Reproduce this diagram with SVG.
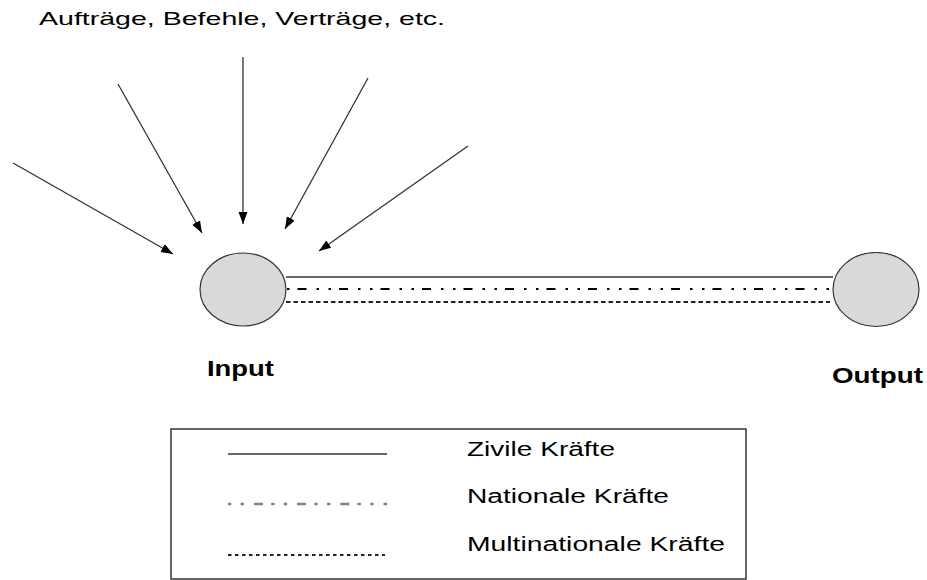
<svg xmlns="http://www.w3.org/2000/svg" width="927" height="580" viewBox="0 0 927 580">
<defs>
<marker id="ah" markerUnits="userSpaceOnUse" markerWidth="13" markerHeight="10" refX="12" refY="4.5" orient="auto">
<path d="M0,0 L12,4.5 L0,9 z" fill="#000"/>
</marker>
<style>
.t{font-family:"Liberation Sans",Arial,sans-serif;fill:#000}
.b{font-weight:bold}
.node{fill:#d9d9d9;stroke:#333;stroke-width:1.2}
.arr{stroke:#333;stroke-width:1.3;fill:none;marker-end:url(#ah)}
.solid{stroke:#666;stroke-width:2;fill:none}
.dd{stroke:#000;stroke-width:2;fill:none;stroke-dasharray:2.5 8 9 10 2.5 9.5}
.dash{stroke:#222;stroke-width:2;fill:none;stroke-dasharray:4.5 3}
.ldd{stroke:#808080;stroke-width:2.4;fill:none;stroke-dasharray:3.3 9.3 3.3 10 9 8.3}
.ldash{stroke:#222;stroke-width:1.8;fill:none;stroke-dasharray:3.5 3.5}
</style>
</defs>
<rect width="927" height="580" fill="#fff"/>
<text class="t" x="39" y="25" font-size="19" textLength="406" lengthAdjust="spacingAndGlyphs">Aufträge, Befehle, Verträge, etc.</text>
<g id="connectors">
<line class="arr" x1="13" y1="163" x2="173" y2="254"/>
<line class="arr" x1="118" y1="84" x2="202" y2="233"/>
<line class="arr" x1="243" y1="57" x2="243" y2="224"/>
<line class="arr" x1="368" y1="78" x2="285" y2="229"/>
<line class="arr" x1="468" y1="146" x2="319" y2="251"/>
<line class="solid" x1="286" y1="277" x2="833" y2="277"/>
<line class="dd" x1="287" y1="289" x2="832" y2="289"/>
<line class="dash" x1="286" y1="302" x2="830" y2="302"/>
</g>
<g id="input">
<ellipse class="node" cx="243" cy="289.5" rx="43" ry="36.5"/>
<text class="t b" x="207" y="376" font-size="22" textLength="67" lengthAdjust="spacingAndGlyphs">Input</text>
</g>
<g id="output">
<ellipse class="node" cx="876" cy="289.5" rx="43" ry="37"/>
<text class="t b" x="832" y="383" font-size="22" textLength="91" lengthAdjust="spacingAndGlyphs">Output</text>
</g>
<g id="legend">
<rect x="171" y="429" width="575" height="150" fill="#fff" stroke="#333" stroke-width="1.5"/>
<line class="solid" x1="228" y1="454" x2="387" y2="454"/>
<line class="ldd" x1="228" y1="504" x2="387" y2="504"/>
<line class="ldash" x1="228" y1="555" x2="385" y2="555"/>
<text class="t" x="467" y="456" font-size="20" textLength="148" lengthAdjust="spacingAndGlyphs">Zivile Kräfte</text>
<text class="t" x="467" y="503" font-size="20" textLength="202" lengthAdjust="spacingAndGlyphs">Nationale Kräfte</text>
<text class="t" x="467" y="551" font-size="20" textLength="258" lengthAdjust="spacingAndGlyphs">Multinationale Kräfte</text>
</g>
</svg>
